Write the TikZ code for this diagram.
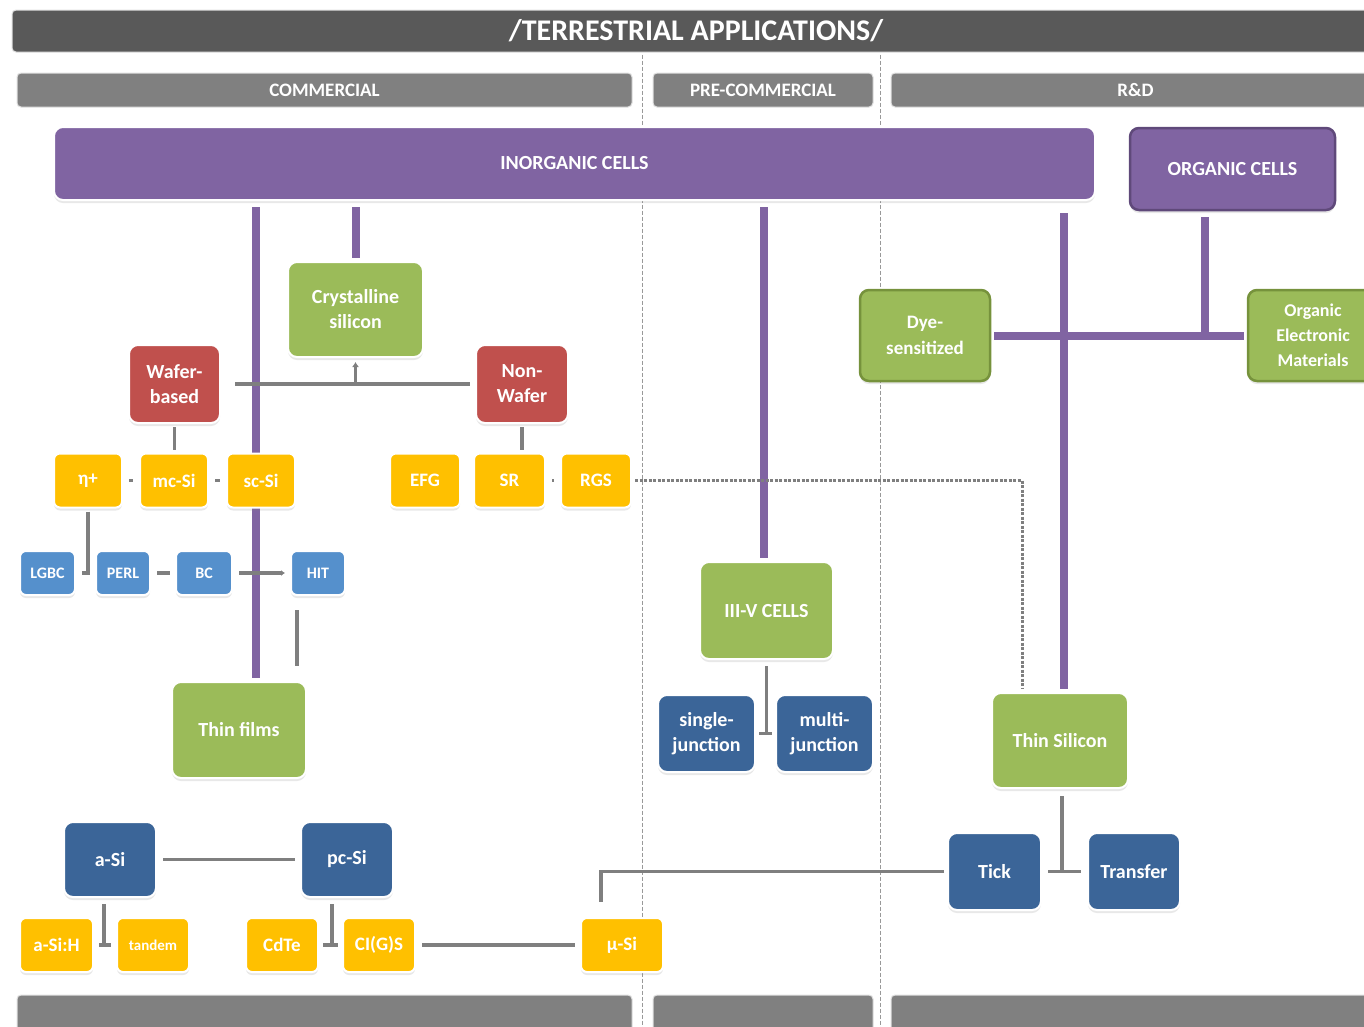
\documentclass[tikz,border=0pt]{standalone}
\usepackage{fontspec}
\setmainfont{Carlito}
\usetikzlibrary{arrows.meta,backgrounds,shadows}
\definecolor{titlegray}{HTML}{595959}
\definecolor{bargray}{HTML}{808080}
\definecolor{linkgray}{HTML}{7F7F7F}
\definecolor{cellpurple}{HTML}{8064A2}
\definecolor{darkpurple}{HTML}{5F497A}
\definecolor{cellgreen}{HTML}{9BBB59}
\definecolor{darkgreen}{HTML}{76923C}
\definecolor{cellred}{HTML}{C0504D}
\definecolor{cellyellow}{HTML}{FFC000}
\definecolor{lightblue}{HTML}{5590CC}
\definecolor{darkblue}{HTML}{3B6598}
\begin{document}
\begin{tikzpicture}[x=1pt,y=-1pt,
  bar/.style={rectangle, rounded corners=4pt, fill=bargray, draw=black!12, line width=1pt,
    text=white, inner sep=0pt, minimum height=34pt, font=\bfseries\fontsize{19}{22}\selectfont},
  cell/.style={rectangle, rounded corners=9pt, draw=white, line width=2pt, text=white,
    align=center, inner sep=0pt, font=\bfseries\fontsize{20}{25}\selectfont,
    drop shadow={opacity=0.18, shadow xshift=0pt, shadow yshift=-3pt}},
  sz/.style 2 args={minimum width=#1pt, minimum height=#2pt},
  purplecell/.style={cell, fill=cellpurple},
  greencell/.style={cell, fill=cellgreen},
  redcell/.style={cell, fill=cellred},
  yellowcell/.style={cell, fill=cellyellow, rounded corners=6pt, minimum height=54pt,
    font=\bfseries\fontsize{19}{22}\selectfont},
  lbluecell/.style={cell, fill=lightblue, rounded corners=6pt, minimum height=44pt,
    font=\bfseries\fontsize{16}{20}\selectfont},
  dbluecell/.style={cell, fill=darkblue},
  trunk/.style={draw=cellpurple, line width=8pt, shorten <=6pt, shorten >=3pt},
  link/.style={draw=linkgray, line width=3.5pt},
  dotlink/.style={draw=linkgray, line width=3pt, dash pattern=on 3pt off 1.5pt},
  divider/.style={draw=linkgray!80, line width=1.5pt, dash pattern=on 4pt off 2pt}
  ]
  \useasboundingbox (0,0) rectangle (1364,1026);
  \clip (0,0) rectangle (1364,1026);

  \node[bar, fill=titlegray, minimum width=1368pt, minimum height=42pt,
    font=\bfseries\fontsize{30}{34}\selectfont] (title) at (696,31) {/TERRESTRIAL APPLICATIONS/};
  \node[bar, minimum width=615pt] (com) at (324.5,90) {COMMERCIAL};
  \node[bar, minimum width=220pt] (precom) at (763,90) {PRE-COMMERCIAL};
  \node[bar, minimum width=489pt] (rd) at (1135.5,90) {R\&D};
  \node[bar, minimum width=615pt, minimum height=50pt] (combot) at (324.5,1020) {};
  \node[bar, minimum width=220pt, minimum height=50pt] (precombot) at (763,1020) {};
  \node[bar, minimum width=489pt, minimum height=50pt] (rdbot) at (1135.5,1020) {};

  \node[purplecell, sz={1041}{73}] (inorg) at (574.5,163.5) {INORGANIC CELLS};
  \node[purplecell, sz={205}{82}, draw=darkpurple, line width=2.5pt] (org) at (1232.5,169) {ORGANIC CELLS};

  \node[greencell, sz={135}{95}] (crys) at (355.5,309.5) {Crystalline\\silicon};
  \node[redcell, sz={91}{78}] (wafer) at (174.5,384) {Wafer-\\based};
  \node[redcell, sz={92}{78}] (nonwafer) at (522,384) {Non-\\Wafer};

  \node[yellowcell, sz={68}{54}] (eta) at (88,480.5) {η+};
  \node[yellowcell, sz={68}{54}] (mcsi) at (174,480.5) {mc-Si};
  \node[yellowcell, sz={68}{54}] (scsi) at (261,480.5) {sc-Si};
  \node[yellowcell, sz={70}{54}] (efg) at (425,480.5) {EFG};
  \node[yellowcell, sz={71}{54}] (sr) at (509.5,480.5) {SR};
  \node[yellowcell, sz={70}{54}] (rgs) at (596,480.5) {RGS};

  \node[lbluecell, sz={55}{44}] (lgbc) at (47.5,573) {LGBC};
  \node[lbluecell, sz={54}{44}] (perl) at (123,573) {PERL};
  \node[lbluecell, sz={56}{44}] (bc) at (204,573) {BC};
  \node[lbluecell, sz={54}{44}] (hit) at (318,573) {HIT};

  \node[greencell, sz={134}{96}] (thinfilms) at (239,730) {Thin films};
  \node[greencell, sz={133}{97}] (iiiv) at (766.5,610.5) {III-V CELLS};
  \node[dbluecell, sz={97}{77}] (single) at (706.5,733.5) {single-\\junction};
  \node[dbluecell, sz={97}{77}] (multi) at (824.5,733.5) {multi-\\junction};

  \node[greencell, sz={130}{91}, draw=darkgreen, line width=2.5pt,
    font=\bfseries\fontsize{19}{26}\selectfont] (dye) at (925,335.5) {Dye-\\sensitized};
  \node[greencell, sz={130}{91}, draw=darkgreen, line width=2.5pt,
    font=\bfseries\fontsize{18}{25}\selectfont] (orgel) at (1313,335.5) {Organic\\Electronic\\Materials};
  \node[greencell, sz={136}{95}] (thinsi) at (1060,740.5) {Thin Silicon};
  \node[dbluecell, sz={93}{77}] (tick) at (994.5,871.5) {Tick};
  \node[dbluecell, sz={92}{77}] (transfer) at (1134,871.5) {Transfer};

  \node[dbluecell, sz={92}{75}] (asi) at (110,859.5) {a-Si};
  \node[dbluecell, sz={92}{75}] (pcsi) at (347,859.5) {pc-Si};
  \node[yellowcell, sz={73}{54}] (asih) at (56.5,945) {a-Si:H};
  \node[yellowcell, sz={72}{54}, font=\bfseries\fontsize{15}{18}\selectfont] (tandem) at (153,945) {tandem};
  \node[yellowcell, sz={72}{54}] (cdte) at (282,945) {CdTe};
  \node[yellowcell, sz={72}{54}] (cigs) at (379,945) {CI(G)S};
  \node[yellowcell, sz={82}{54}] (musi) at (622,945) {μ-Si};

  \begin{pgfonlayer}{background}
    \draw[divider] (com.north east) ++(10,-18) -- ++(0,1000);
    \draw[divider] (precom.north east) ++(7,-18) -- ++(0,1000);

    \draw[trunk] ([xshift=17pt]thinfilms.north |- inorg.south) -- ([xshift=17pt]thinfilms.north);
    \draw[trunk] (crys.north |- inorg.south) -- (crys.north);
    \draw[trunk] ([xshift=-3pt]iiiv.north |- inorg.south) -- ([xshift=-3pt]iiiv.north);
    \draw[trunk, shorten <=12pt] ([xshift=4pt]thinsi.north |- inorg.south) -- ([xshift=4pt]thinsi.north);
    \draw[trunk, shorten <=3pt, shorten >=3pt] (dye.east) -- (orgel.west);
    \draw[trunk, shorten >=0pt] ([xshift=-27.5pt]org.south) -- ([xshift=-27.5pt]org.south |- dye.east);

    \draw[link, shorten <=14pt, shorten >=5pt] (wafer.east) -- (nonwafer.west);
    \draw[link, -{Latex[length=5pt,width=7pt]}, shorten >=4pt] (wafer.east -| crys.south) -- (crys.south);
    \draw[link, shorten <=3pt, shorten >=3pt] (wafer.south) -- (wafer.south |- mcsi.north);
    \draw[link, shorten <=3pt, shorten >=3pt] (nonwafer.south) -- (nonwafer.south |- sr.north);
    \foreach \a/\b in {eta/mcsi, mcsi/scsi, efg/sr, sr/rgs}
      \draw[link, shorten <=6pt, shorten >=6pt] (\a.east) -- (\b.west);
    \draw[dotlink, shorten <=3pt, shorten >=3pt] (rgs.east) -| ([xshift=-38pt]thinsi.north);

    \draw[link, shorten <=6pt, shorten >=5pt] (lgbc.east) -- (perl.west);
    \draw[link, shorten <=3pt] (eta.south) -- (eta.south |- perl.west);
    \draw[link, shorten <=6pt, shorten >=5pt] (perl.east) -- (bc.west);
    \draw[link, -{Latex[length=4pt,width=6pt]}, shorten <=6pt, shorten >=5pt] (bc.east) -- (hit.west);
    \draw[link, shorten <=14pt, shorten >=15pt] ([xshift=-21pt]hit.south) -- ([xshift=-21pt]hit.south |- thinfilms.north);

    \draw[link, shorten <=6pt] (iiiv.south) -- (iiiv.south |- single.east);
    \draw[link, shorten <=3pt, shorten >=3pt] (single.east) -- (multi.west);

    \draw[link, shorten <=7pt] ([xshift=2pt]thinsi.south) -- ([xshift=2pt]thinsi.south |- tick.east);
    \draw[link, shorten <=6pt, shorten >=6pt] (tick.east) -- (transfer.west);
    \draw[link, shorten <=3pt, shorten >=15pt] (tick.west) -| ([xshift=-21pt]musi.north);

    \draw[link, shorten <=6pt, shorten >=5pt] (asi.east) -- (pcsi.west);
    \draw[link, shorten <=5pt, shorten >=5pt] (asih.east) -- (tandem.west);
    \draw[link, shorten <=6pt] ([xshift=-6pt]asi.south) -- ([xshift=-6pt]asi.south |- tandem.west);
    \draw[link, shorten <=4pt, shorten >=4pt] (cdte.east) -- (cigs.west);
    \draw[link, shorten <=6pt] ([xshift=-15pt]pcsi.south) -- ([xshift=-15pt]pcsi.south |- cigs.west);
    \draw[link, shorten <=6pt, shorten >=5pt] (cigs.east) -- (musi.west);
  \end{pgfonlayer}
\end{tikzpicture}
\end{document}
